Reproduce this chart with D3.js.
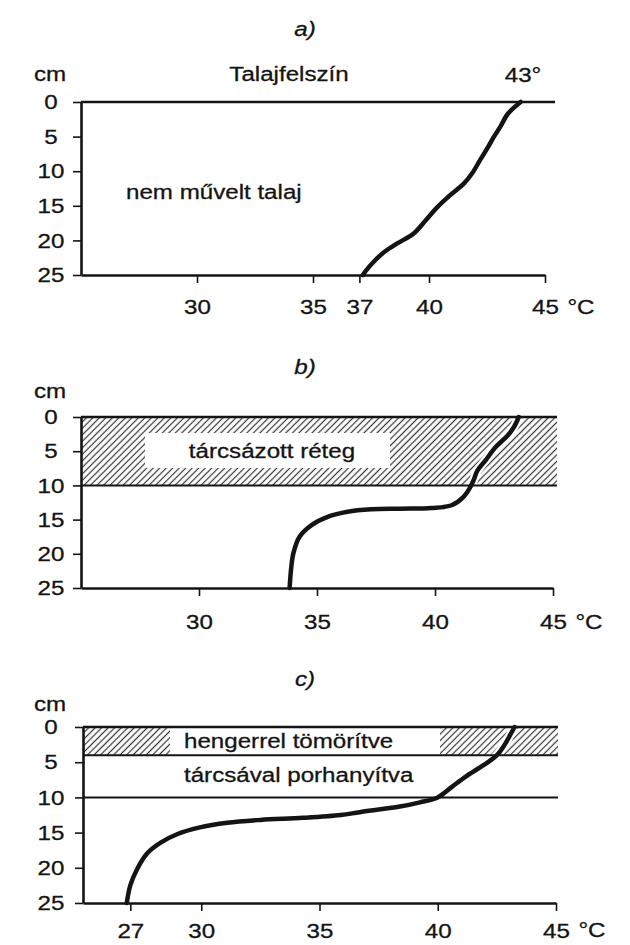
<!DOCTYPE html>
<html>
<head>
<meta charset="utf-8">
<script src="https://cdn.jsdelivr.net/npm/d3@7"></script>
<style>
  body { margin: 0; background: #fff; }
  svg { display: block; font-family: "Liberation Sans", Arial, sans-serif; }
</style>
</head>
<body>
<svg id="chart" width="630" height="945"></svg>
<script>
// soil temperature profiles: depth (cm) vs temperature (°C)
var depthTicks = [0, 5, 10, 15, 20, 25];
var tempTicksA = [30, 35, 37, 40, 45];
var tempTicksB = [30, 35, 40, 45];
var tempTicksC = [27, 30, 35, 40, 45];

// a) untilled soil
var depthA = [0, 1.7, 3.6, 5, 6.5, 8.4, 10.3, 11.8, 13.5, 15.4, 17.1, 19, 20.4, 21.6, 22.8, 24.5, 25];
var tempA  = [43.95, 43.4, 43.07, 42.8, 42.55, 42.2, 41.86, 41.5, 40.9, 40.3, 39.86, 39.34, 38.65, 38.1, 37.7, 37.25, 37.15];

// b) disked layer
var depthB = [0, 1.5, 2.7, 4.4, 6.3, 7.8, 9.2, 10.4, 11.7, 12.9, 13.3, 13.4, 13.5, 13.85, 14.6, 15.8, 17.5, 19.9, 22.3, 25];
var tempB  = [43.55, 43.34, 43.08, 42.57, 42.15, 41.8, 41.64, 41.47, 41.2, 40.7, 39.86, 38.5, 37.3, 36.3, 35.45, 34.77, 34.26, 34.0, 33.9, 33.84];

// c) rolled on top, disked below
var depthC = [0, 1.2, 2.4, 4, 5.5, 7, 8.5, 10, 10.7, 11.3, 12.1, 12.5, 12.9, 13.2, 13.6, 14.3, 15.2, 16.4, 18, 20.3, 22.5, 25];
var tempC  = [43.25, 43.05, 42.85, 42.5, 41.9, 41.2, 40.6, 40.0, 39.25, 38.4, 36.7, 35.9, 34.3, 32.5, 31.1, 29.9, 29.0, 28.3, 27.7, 27.27, 27.0, 26.85];

var layersB = [0, 10];
var layersC = [0, 4, 10];

var svg = d3.select("#chart");
var ink = "#141414";
var sx = 1.15;

svg.append("defs").append("pattern")
    .attr("id", "hatch")
    .attr("patternUnits", "userSpaceOnUse")
    .attr("width", 4.6).attr("height", 4.6)
    .attr("patternTransform", "rotate(45)")
  .append("line")
    .attr("x1", 2.3).attr("y1", 0).attr("x2", 2.3).attr("y2", 4.6)
    .attr("stroke", "#333").attr("stroke-width", 1.2);

function label(g, txt, x, y, anchor, size, italic) {
  return g.append("text")
      .attr("transform", "translate(" + x + "," + y + ") scale(" + sx + ",1)")
      .attr("text-anchor", anchor || "start")
      .attr("font-size", size || 21)
      .attr("font-style", italic ? "italic" : null)
      .attr("fill", ink)
      .attr("stroke", ink).attr("stroke-width", 0.3)
      .text(txt);
}

function panel(p) {
  var x = d3.scaleLinear().domain([25, 45]).range([p.left, p.right]);
  var y = d3.scaleLinear().domain([0, 25]).range([p.top, p.bottom]);
  var g = svg.append("g");
  var end = p.lineEnd;

  if (p.layers) {
    var l = p.layers;
    g.append("rect")
        .attr("x", x(25)).attr("y", y(l[0]))
        .attr("width", end - x(25)).attr("height", y(l[1]) - y(l[0]))
        .attr("fill", "url(#hatch)");
  }
  if (p.clear) {
    g.append("rect")
        .attr("x", p.clear[0]).attr("y", p.clear[1])
        .attr("width", p.clear[2]).attr("height", p.clear[3])
        .attr("fill", "#fff");
  }

  var line = d3.line()
      .x(function(d) { return x(d[1]); })
      .y(function(d) { return y(d[0]); })
      .curve(d3.curveCatmullRom.alpha(0.5));
  var pts = d3.zip(p.depth, p.temp);

  if (p.layers) {
    g.append("path").attr("d", line(pts))
        .attr("fill", "none").attr("stroke", "#fff").attr("stroke-width", 9);
  }

  // surface line and layer boundaries
  var bounds = p.layers ? p.layers : [0];
  bounds.forEach(function(d) {
    g.append("line")
        .attr("x1", x(25)).attr("x2", end)
        .attr("y1", y(d)).attr("y2", y(d))
        .attr("stroke", ink)
        .attr("stroke-width", d === 0 ? 2.6 : 2);
  });

  var ax = g.append("g")
      .attr("transform", "translate(0," + y(25) + ")")
      .call(d3.axisBottom(x).tickValues(p.ticks).tickSize(8).tickSizeOuter(0).tickPadding(p.pad));
  var ay = g.append("g")
      .attr("transform", "translate(" + x(25) + ",0)")
      .call(d3.axisLeft(y).tickValues(depthTicks).tickSize(8).tickSizeOuter(0));

  [ax, ay].forEach(function(a) {
    a.select(".domain").attr("stroke", ink).attr("stroke-width", 2.6);
    a.selectAll(".tick line").attr("stroke", ink).attr("stroke-width", 1.6);
    a.selectAll("text").attr("font-size", 21).attr("fill", ink)
        .attr("stroke", ink).attr("stroke-width", 0.3)
        .attr("font-family", "Liberation Sans, Arial, sans-serif");
  });
  ax.selectAll("text").attr("transform", "scale(" + sx + ",1)");
  ay.selectAll("text")
      .attr("text-anchor", "middle")
      .attr("x", (51 - x(25)) / sx)
      .attr("transform", "scale(" + sx + ",1)");

  g.append("path").attr("d", line(pts))
      .attr("fill", "none").attr("stroke", ink)
      .attr("stroke-width", 4.5).attr("stroke-linecap", "round");

  label(g, p.title, 305, p.titleY, "middle", 21, true);
  label(g, "cm", 50, p.cmY, "middle");
  label(g, "°C", x(45) + 36, p.unitY, "middle");
  p.notes.forEach(function(n) { label(g, n[0], n[1], n[2], n[3]); });
}

panel({
  title: "a)", titleY: 36, cmY: 81, unitY: 314,
  left: 81, right: 545, top: 102, bottom: 275, lineEnd: 555, pad: 16,
  ticks: tempTicksA, depth: depthA, temp: tempA,
  notes: [["Talajfelszín", 289, 81, "middle"], ["43°", 523, 82, "middle"],
          ["nem művelt talaj", 126, 199, "start"]]
});

panel({
  title: "b)", titleY: 374, cmY: 398, unitY: 629,
  left: 81, right: 553, top: 417, bottom: 588, lineEnd: 557, pad: 18,
  ticks: tempTicksB, depth: depthB, temp: tempB, layers: layersB,
  clear: [145, 433, 245, 35],
  notes: [["tárcsázott réteg", 272, 458, "middle"]]
});

panel({
  title: "c)", titleY: 686, cmY: 711, unitY: 937,
  left: 83, right: 556, top: 727, bottom: 903, lineEnd: 558, pad: 12,
  ticks: tempTicksC, depth: depthC, temp: tempC, layers: layersC,
  clear: [170, 727, 270, 29],
  notes: [["hengerrel tömörítve", 184, 748, "start"],
          ["tárcsával porhanyítva", 184, 782, "start"]]
});
</script>
</body>
</html>
